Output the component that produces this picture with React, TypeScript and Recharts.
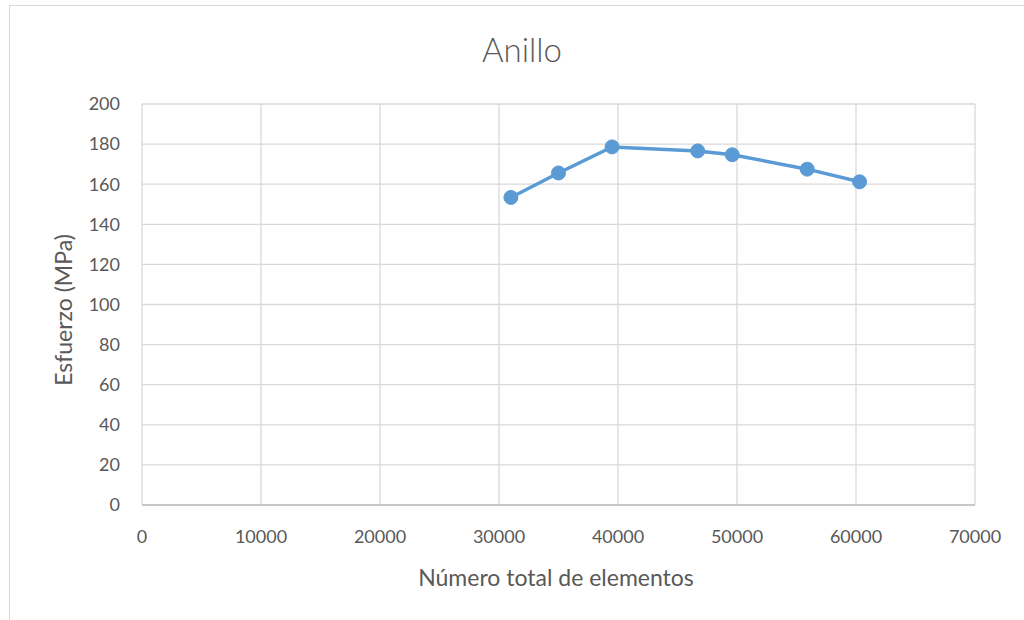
import { LineChart, Line, XAxis, YAxis, CartesianGrid } from "recharts";

// ─── Data ─────────────────────────────────────────────────────────────────────

const elementCounts = [31000, 35000, 39500, 46700, 49600, 55900, 60300];
const stressMPa = [153.4, 165.6, 178.6, 176.6, 174.7, 167.5, 161.2];

const xTicks = [0, 10000, 20000, 30000, 40000, 50000, 60000, 70000];
const yTicks = [0, 20, 40, 60, 80, 100, 120, 140, 160, 180, 200];

const chartTitle = "Anillo";
const xTitle = "Número total de elementos";
const yTitle = "Esfuerzo (MPa)";

const data = elementCounts.map((x, i) => ({ x, y: stressMPa[i] }));

// ─── Style ────────────────────────────────────────────────────────────────────

const FONT = "Lato, 'Open Sans', sans-serif";
const TEXT = "#595959";
const GRID = "#d9d9d9";
const SERIES = "#5b9bd5";

export default function App() {
  return (
    <div
      style={{
        position: "fixed",
        left: 0,
        top: 0,
        width: 1024,
        height: 620,
        overflow: "hidden",
        background: "#fff",
        fontFamily: FONT,
      }}
    >
      {/* chart frame, runs off the right and bottom edges */}
      <div
        style={{
          position: "absolute",
          left: 9,
          top: 5,
          width: 1026,
          height: 640,
          border: `1px solid ${GRID}`,
          boxSizing: "border-box",
        }}
      />

      {/* Title */}
      <div
        style={{
          position: "absolute",
          left: 322,
          top: 27,
          width: 400,
          textAlign: "center",
          fontSize: 33,
          fontWeight: 300,
          color: TEXT,
          lineHeight: "44px",
        }}
      >
        {chartTitle}
      </div>

      {/* Axis titles */}
      <div
        style={{
          position: "absolute",
          left: 356,
          top: 562,
          width: 400,
          textAlign: "center",
          fontSize: 23,
          color: TEXT,
          lineHeight: "30px",
        }}
      >
        {xTitle}
      </div>
      <div
        style={{
          position: "absolute",
          left: 63 - 120,
          top: 310 - 15,
          width: 240,
          textAlign: "center",
          fontSize: 23,
          color: TEXT,
          lineHeight: "30px",
          transform: "rotate(-90deg)",
        }}
      >
        {yTitle}
      </div>

      <div style={{ position: "absolute", left: 0, top: 0 }}>
        <LineChart
          width={1024}
          height={620}
          data={data}
          margin={{ top: 104, right: 49, bottom: 85, left: 82 }}
        >
          <CartesianGrid stroke={GRID} strokeWidth={1.3} />
          <XAxis
            dataKey="x"
            type="number"
            domain={[0, 70000]}
            ticks={xTicks}
            height={30}
            axisLine={{ stroke: "#bfbfbf", strokeWidth: 1.3 }}
            tickLine={false}
            tickSize={0}
            tickMargin={25}
            tick={{ fontSize: 18, fill: TEXT, fontFamily: FONT }}
          />
          <YAxis
            dataKey="y"
            type="number"
            domain={[0, 200]}
            ticks={yTicks}
            width={60}
            axisLine={false}
            tickLine={false}
            tickSize={0}
            tickMargin={22}
            tick={{ fontSize: 18, fill: TEXT, fontFamily: FONT }}
          />
          <Line
            type="linear"
            dataKey="y"
            stroke={SERIES}
            strokeWidth={3.5}
            dot={{ r: 7, fill: SERIES, stroke: SERIES, strokeWidth: 1 }}
            activeDot={false}
            isAnimationActive={false}
          />
        </LineChart>
      </div>
    </div>
  );
}
